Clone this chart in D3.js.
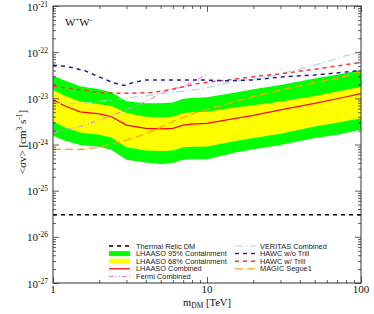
<!DOCTYPE html>
<html><head><meta charset="utf-8">
<script src="https://cdn.jsdelivr.net/npm/d3@7"></script>
<style>
html,body{margin:0;padding:0;background:#fff;}
svg{display:block;}
</style>
</head><body>
<svg id="c" width="374" height="314"></svg>
<script>
// ---------------- DATA ----------------
const massGrid = [1, 1.2, 1.5, 2, 2.4, 3, 4, 5, 6, 7, 8, 10, 15, 20, 30, 50, 70, 100];
const lhaaso95Upper = [3.09e-23, 2.40e-23, 1.82e-23, 1.58e-23, 1.35e-23, 8.7e-24, 7.8e-24, 7.8e-24, 8.1e-24, 9.8e-24, 1.02e-23, 1.05e-23, 1.32e-23, 1.58e-23, 1.95e-23, 2.69e-23, 3.24e-23, 4.12e-23];
const lhaaso68Upper = [1.51e-23, 1.12e-23, 8.5e-24, 7.4e-24, 6.8e-24, 4.8e-24, 4.0e-24, 3.9e-24, 4.0e-24, 4.8e-24, 5.0e-24, 5.1e-24, 6.3e-24, 7.1e-24, 8.5e-24, 1.12e-23, 1.40e-23, 1.78e-23];
const lhaasoCombined = [9.3e-24, 6.8e-24, 5.1e-24, 4.6e-24, 4.0e-24, 2.63e-24, 2.24e-24, 2.19e-24, 2.24e-24, 2.63e-24, 2.75e-24, 2.88e-24, 3.63e-24, 4.27e-24, 5.6e-24, 7.8e-24, 9.8e-24, 1.26e-23];
const lhaaso68Lower = [3.16e-24, 2.34e-24, 1.82e-24, 1.62e-24, 1.41e-24, 8.7e-25, 7.4e-25, 7.2e-25, 7.4e-25, 8.7e-25, 8.9e-25, 9.1e-25, 1.17e-24, 1.38e-24, 1.70e-24, 2.45e-24, 2.95e-24, 3.72e-24];
const lhaaso95Lower = [1.55e-24, 1.20e-24, 9.8e-25, 8.9e-25, 7.6e-25, 4.7e-25, 4.1e-25, 3.8e-25, 4.0e-25, 4.7e-25, 4.8e-25, 4.8e-25, 6.6e-25, 7.9e-25, 9.8e-25, 1.38e-24, 1.62e-24, 2.09e-24];

const hawcNoTrillMass = [1, 1.23, 1.6, 2, 2.5, 2.9, 3.3, 4, 6, 9, 13.5, 20, 30, 50, 100];
const hawcNoTrillSv   = [5.2e-23, 4.9e-23, 4.0e-23, 2.9e-23, 2.14e-23, 1.9e-23, 2.19e-23, 2.5e-23, 2.5e-23, 2.5e-23, 2.4e-23, 2.5e-23, 2.9e-23, 3.2e-23, 4.0e-23];

const hawcTrillMass = [1, 1.23, 1.6, 2, 2.5, 3.3, 4.5, 6, 9, 13.5, 20, 30, 50, 100];
const hawcTrillSv   = [1.86e-23, 1.66e-23, 1.51e-23, 1.33e-23, 1.29e-23, 1.29e-23, 1.34e-23, 1.58e-23, 2.14e-23, 2.5e-23, 2.95e-23, 3.4e-23, 4.27e-23, 6.0e-23];

const veritasMass = [1, 1.6, 2.5, 3.3, 5.5, 9, 14.7, 24.4, 40, 60, 80, 100];
const veritasSv   = [7.8e-24, 7.8e-24, 9.3e-24, 1.05e-23, 1.29e-23, 1.58e-23, 2.29e-23, 2.86e-23, 4.27e-23, 6.2e-23, 8.4e-23, 1.02e-22];

const fermiMass = [1, 1.5, 2, 3, 4, 5, 6, 7, 8, 10];
const fermiSv   = [1.82e-24, 2.45e-24, 3.4e-24, 5.6e-24, 8.5e-24, 1.29e-23, 1.66e-23, 1.74e-23, 2.29e-23, 3.24e-23];

const magicMass = [1, 1.5, 2, 2.5, 3, 4, 5, 6, 8, 10, 20, 30, 50, 70, 100];
const magicSv   = [7.9e-25, 7.8e-25, 8.7e-25, 1.07e-24, 1.26e-24, 1.70e-24, 2.34e-24, 3.16e-24, 4.6e-24, 5.75e-24, 1.10e-23, 1.51e-23, 2.19e-23, 2.69e-23, 3.8e-23];

const thermalMass = [1, 100];
const thermalSv   = [3e-26, 3e-26];

const xTickValues = [1, 10, 100];
const xTickLabels = ["1", "10", "100"];
const yTickExponents = [-21, -22, -23, -24, -25, -26, -27];

const legendLabels = ["Thermal Relic DM", "LHAASO 95% Containment", "LHAASO 68% Containment", "LHAASO Combined", "Fermi Combined",
                      "VERITAS Combined", "HAWC w/o Trill", "HAWC w/ Trill", "MAGIC Segue1"];

// ---------------- DRAW ----------------
const svg = d3.select("#c");
const L = 53, R = 361, T = 6, B = 283;
const x = d3.scaleLog().domain([1, 100]).range([L, R]);
const y = d3.scaleLog().domain([1e-27, 1e-21]).range([B, T]);

svg.append("defs").append("clipPath").attr("id", "clip")
  .append("rect").attr("x", L).attr("y", T).attr("width", R - L).attr("height", B - T);
const g = svg.append("g").attr("clip-path", "url(#clip)");

const band = (up, lo) => d3.area().x((d, i) => x(massGrid[i])).y0((d, i) => y(lo[i])).y1((d, i) => y(up[i]))(massGrid);
g.append("path").attr("d", band(lhaaso95Upper, lhaaso95Lower)).attr("fill", "#00ff00");
g.append("path").attr("d", band(lhaaso68Upper, lhaaso68Lower)).attr("fill", "#ffff00");

const line = (ms, vs) => d3.line().x((d, i) => x(ms[i])).y((d, i) => y(vs[i]))(ms);

const styles = {
  thermal: {c: "#000000", w: 1.4, d: "4,4"},
  combined: {c: "#ff0000", w: 1.2, d: null},
  fermi: {c: "#ee82ee", w: 1.2, d: "5,2,1,2,1,2"},
  veritas: {c: "#a9d9ea", w: 1.2, d: "8,3,1.5,3"},
  hawcNo: {c: "#1f1f8f", w: 1.5, d: "4,4"},
  hawcW: {c: "#ff3333", w: 1.5, d: "4,4"},
  magic: {c: "#ffa500", w: 1.3, d: "8,4"}
};
function drawLine(ms, vs, s) {
  g.append("path").attr("d", line(ms, vs)).attr("fill", "none")
    .attr("stroke", s.c).attr("stroke-width", s.w).attr("stroke-dasharray", s.d);
}
drawLine(massGrid, lhaasoCombined, styles.combined);
drawLine(fermiMass, fermiSv, styles.fermi);
drawLine(veritasMass, veritasSv, styles.veritas);
drawLine(magicMass, magicSv, styles.magic);
drawLine(hawcTrillMass, hawcTrillSv, styles.hawcW);
drawLine(hawcNoTrillMass, hawcNoTrillSv, styles.hawcNo);
drawLine(thermalMass, thermalSv, styles.thermal);

// ---- axes ticks (inside) ----
const xMinor = [];
[1, 10].forEach(dec => { for (let k = 2; k <= 9; k++) xMinor.push(dec * k); });
const yMajor = yTickExponents.map(e => Math.pow(10, e));
const yMinor = [];
for (let e = -27; e < -21; e++) for (let k = 2; k <= 9; k++) yMinor.push(k * Math.pow(10, e));

const axisStyle = sel => { sel.select(".domain").remove(); sel.selectAll("line").attr("stroke", "#333").attr("stroke-width", 0.8); };
svg.append("g").attr("transform", `translate(0,${B})`).call(d3.axisBottom(x).tickValues(xTickValues).tickSize(-6).tickFormat("")).call(axisStyle);
svg.append("g").attr("transform", `translate(0,${B})`).call(d3.axisBottom(x).tickValues(xMinor).tickSize(-3).tickFormat("")).call(axisStyle);
svg.append("g").attr("transform", `translate(0,${T})`).call(d3.axisTop(x).tickValues(xTickValues).tickSize(-6).tickFormat("")).call(axisStyle);
svg.append("g").attr("transform", `translate(0,${T})`).call(d3.axisTop(x).tickValues(xMinor).tickSize(-3).tickFormat("")).call(axisStyle);
svg.append("g").attr("transform", `translate(${L},0)`).call(d3.axisLeft(y).tickValues(yMajor).tickSize(-6).tickFormat("")).call(axisStyle);
svg.append("g").attr("transform", `translate(${L},0)`).call(d3.axisLeft(y).tickValues(yMinor).tickSize(-3).tickFormat("")).call(axisStyle);
svg.append("g").attr("transform", `translate(${R},0)`).call(d3.axisRight(y).tickValues(yMajor).tickSize(-6).tickFormat("")).call(axisStyle);
svg.append("g").attr("transform", `translate(${R},0)`).call(d3.axisRight(y).tickValues(yMinor).tickSize(-3).tickFormat("")).call(axisStyle);

svg.append("rect").attr("x", L).attr("y", T).attr("width", R - L).attr("height", B - T)
  .attr("fill", "none").attr("stroke", "#333").attr("stroke-width", 1);

const serif = "'Liberation Serif','Times New Roman',serif";
const sans = "'Liberation Sans',Arial,Helvetica,sans-serif";

// y tick labels
yTickExponents.forEach(e => {
  const t = svg.append("text").attr("x", 48).attr("y", y(Math.pow(10, e)) + 4.5)
    .attr("text-anchor", "end").attr("font-family", serif).attr("font-size", 11).attr("fill", "#111");
  t.append("tspan").text("10");
  t.append("tspan").attr("dy", -4).attr("font-size", 7.5).text(String(e));
});
// x tick labels
xTickValues.forEach((v, i) => {
  svg.append("text").attr("x", x(v)).attr("y", 293).attr("text-anchor", "middle")
    .attr("font-family", serif).attr("font-size", 11).attr("fill", "#111").text(xTickLabels[i]);
});
// x title
{
  const t = svg.append("text").attr("x", x(10)).attr("y", 305.5).attr("text-anchor", "middle")
    .attr("font-family", serif).attr("font-size", 10.5).attr("fill", "#111");
  t.append("tspan").text("m");
  t.append("tspan").attr("dy", 2.5).attr("font-size", 7.5).text("DM");
  t.append("tspan").attr("dy", -2.5).text(" [TeV]");
}
// y title
{
  const t = svg.append("text").attr("transform", `translate(26,142) rotate(-90)`).attr("text-anchor", "middle")
    .attr("font-family", serif).attr("font-size", 11).attr("fill", "#111");
  t.append("tspan").text("<σv> [cm");
  t.append("tspan").attr("dy", -4).attr("font-size", 7.5).text("3");
  t.append("tspan").attr("dy", 4).text(" s");
  t.append("tspan").attr("dy", -4).attr("font-size", 7.5).text("-1");
  t.append("tspan").attr("dy", 4).text("]");
}
// channel label
{
  const t = svg.append("text").attr("x", 65).attr("y", 26)
    .attr("font-family", serif).attr("font-size", 11).attr("fill", "#111");
  t.append("tspan").text("W");
  t.append("tspan").attr("dy", -4).attr("font-size", 7).text("+");
  t.append("tspan").attr("dy", 4).text("W");
  t.append("tspan").attr("dy", -4).attr("font-size", 7).text("-");
}

// legend
const legendKinds = [
  {t: "line", s: styles.thermal}, {t: "band", c: "#00ff00"}, {t: "band", c: "#ffff00"},
  {t: "line", s: styles.combined}, {t: "line", s: styles.fermi},
  {t: "line", s: styles.veritas}, {t: "line", s: styles.hawcNo}, {t: "line", s: styles.hawcW}, {t: "line", s: styles.magic}
];
const lg = svg.append("g");
legendLabels.forEach((lab, i) => {
  const col = i < 5 ? 0 : 1, row = i < 5 ? i : i - 5;
  const sx = col === 0 ? 109 : 235, tx = col === 0 ? 136 : 260;
  const cy = 246 + row * 7.6;
  const k = legendKinds[i];
  if (k.t === "band") {
    lg.append("rect").attr("x", sx).attr("y", cy - 2.5).attr("width", 21).attr("height", 5).attr("fill", k.c);
  } else {
    lg.append("line").attr("x1", sx).attr("x2", sx + 21).attr("y1", cy).attr("y2", cy)
      .attr("stroke", k.s.c).attr("stroke-width", k.s.w).attr("stroke-dasharray", k.s.d);
  }
  lg.append("text").attr("x", tx).attr("y", cy + 2.6).attr("font-family", sans).attr("font-size", 7.4)
    .attr("fill", "#222").text(lab);
});
</script>
</body></html>
